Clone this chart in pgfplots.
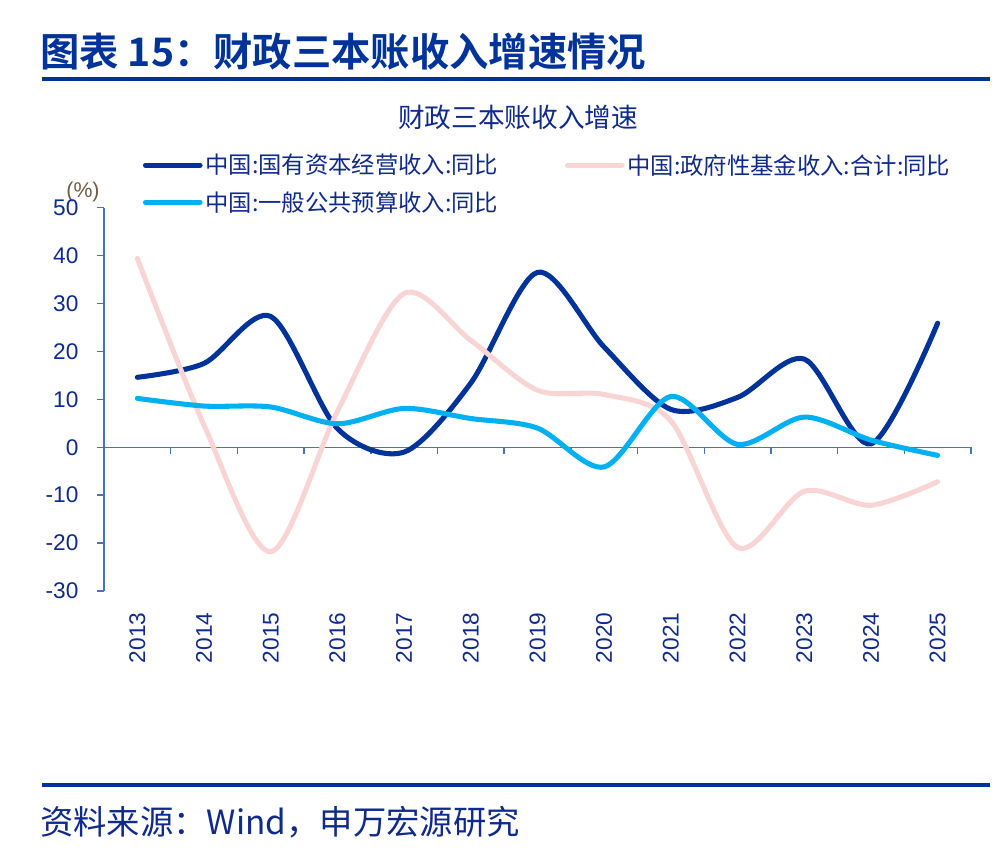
\documentclass[border=0pt]{standalone}
\usepackage{fontspec}
\usepackage{pgfplots}
\pgfplotsset{compat=1.18}
\setmainfont{Liberation Sans}
\newfontfamily\cjk[BoldFont={Noto Sans CJK SC Bold}]{Noto Sans CJK SC}
\definecolor{titleblue}{RGB}{0,51,153}
\definecolor{navytxt}{RGB}{16,42,140}
\definecolor{darkline}{RGB}{0,51,153}
\definecolor{lightline}{RGB}{0,176,240}
\definecolor{pinkline}{RGB}{248,212,212}
\definecolor{axiscol}{RGB}{68,114,196}
\definecolor{unitcol}{RGB}{110,90,70}

\pgfplotstableread{
year val
2013 14.6
2014 17.5
2015 27.3
2016 3.9
2017 -1.0
2018 13.4
2019 36.5
2020 20.9
2021 7.9
2022 10.4
2023 18.4
2024 0.7
2025 25.9
}\stateowned
\pgfplotstableread{
year val
2013 39.4
2014 4.6
2015 -21.8
2016 7.5
2017 32.1
2018 22.3
2019 11.9
2020 11.0
2021 5.5
2022 -20.9
2023 -9.2
2024 -12.1
2025 -7.2
}\govfund
\pgfplotstableread{
year val
2013 10.2
2014 8.6
2015 8.4
2016 4.9
2017 8.1
2018 6.0
2019 4.0
2020 -4.1
2021 10.6
2022 0.6
2023 6.3
2024 1.5
2025 -1.7
}\general

\begin{document}
\begin{tikzpicture}[x=0.75pt,y=-0.75pt]
\path[use as bounding box] (0,0) rectangle (1000,867);
% header
\node[anchor=west, inner sep=0pt, text=titleblue, font=\cjk\bfseries\fontsize{29.5}{34}\selectfont] at (40,52) {图表 15：财政三本账收入增速情况};
\fill[titleblue] (42,77) rectangle (990,81);
% footer
\fill[titleblue] (42,783) rectangle (990,787);
\node[anchor=west, inner sep=0pt, text=navytxt, font=\cjk\fontsize{25}{30}\selectfont] at (40,822) {资料来源：Wind，申万宏源研究};
% chart title
\node[text=navytxt, inner sep=0pt, font=\cjk\fontsize{20}{24}\selectfont] at (518,117) {财政三本账收入增速};
\node[text=unitcol, inner sep=0pt, font=\fontsize{16}{19}\selectfont] at (83,192) {(\%)};
\coordinate (A) at (104,591);
\begin{axis}[
  at={(A)}, anchor=south west,
  scale only axis, width=650.25pt, height=287.5pt,
  xmin=2012.5, xmax=2025.5, ymin=-30, ymax=50,
  axis x line*=bottom, axis y line*=left,
  x axis line style={draw=none},
  y axis line style={draw=axiscol, line width=1.1pt},
  xtick={2013,2014,2015,2016,2017,2018,2019,2020,2021,2022,2023,2024,2025},
  xticklabels={2013,2014,2015,2016,2017,2018,2019,2020,2021,2022,2023,2024,2025},
  xtick style={draw=none},
  ytick={-30,-20,-10,0,10,20,30,40,50},
  ytick style={draw=axiscol, line width=1.1pt},
  tick align=outside, major tick length=5pt,
  /pgf/number format/assume math mode=true,
  tick label style={text=navytxt, font=\fontsize{17}{20}\selectfont},
  xticklabel style={rotate=90, anchor=east, inner sep=0pt},
  xticklabel shift=11pt,
  yticklabel style={anchor=east, inner sep=0pt},
  yticklabel shift=14pt,
  clip=false,
  legend columns=2,
  legend cell align=left,
  legend style={draw=none, fill=none, at={(0.04,1.154)}, anchor=north west,
    font=\cjk\fontsize{17.5}{20}\selectfont, text=navytxt,
    row sep=7.5pt,
    /tikz/every even column/.append style={column sep=48pt}},
  legend image code/.code={\draw[#1, line cap=round] (0pt,0pt) -- (41pt,0pt);},
  every axis plot/.append style={line width=3.8pt, line cap=round, line join=round, smooth, tension=0.5},
]
\draw[axiscol, line width=1.1pt] (axis cs:2012.5,0) -- (axis cs:2025.5,0);
\pgfplotsinvokeforeach{2013.5,2014.5,2015.5,2016.5,2017.5,2018.5,2019.5,2020.5,2021.5,2022.5,2023.5,2024.5,2025.5}{
  \draw[axiscol, line width=1.1pt] (axis cs:#1,0) -- ++(0pt,-5pt);
}
\addplot[darkline] table[x=year,y=val] {\stateowned};
\addlegendentry{中国:国有资本经营收入:同比}
\addplot[pinkline] table[x=year,y=val] {\govfund};
\addlegendentry{中国:政府性基金收入:合计:同比}
\addplot[lightline] table[x=year,y=val] {\general};
\addlegendentry{中国:一般公共预算收入:同比}
\end{axis}
\end{tikzpicture}
\end{document}
